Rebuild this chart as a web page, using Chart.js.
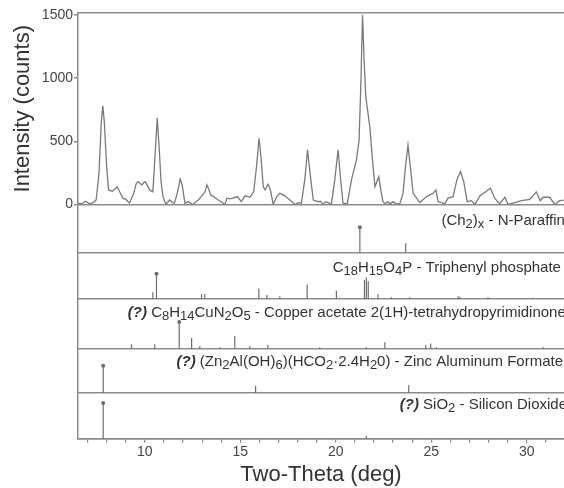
<!DOCTYPE html>
<html>
<head>
<meta charset="utf-8">
<script src="https://cdn.jsdelivr.net/npm/chart.js@4.4.0/dist/chart.umd.min.js"></script>
<style>
body { margin: 0; background: #fff; }
</style>
</head>
<body>
<canvas id="xrd" width="564" height="488"></canvas>
<script>
// measured pattern
const twoTheta = [6.5, 6.7, 6.9, 7.1, 7.3, 7.45, 7.6, 7.72, 7.8, 7.88, 8.0, 8.1, 8.3, 8.55, 8.7, 8.85, 9.0, 9.2, 9.4, 9.55,
  9.65, 9.75, 9.85, 9.95, 10.02, 10.15, 10.25, 10.42, 10.52, 10.65, 10.75, 10.85, 10.95, 11.1, 11.3, 11.45, 11.55, 11.7, 11.85, 11.95,
  12.1, 12.28, 12.5, 12.8, 12.95, 13.15, 13.25, 13.35, 13.45, 13.6, 13.85, 14.0, 14.2, 14.3, 14.45, 14.6, 14.85, 15.05, 15.25, 15.5,
  15.7, 15.85, 15.98, 16.08, 16.2, 16.3, 16.45, 16.58, 16.72, 16.9, 17.07, 17.33, 17.6, 17.85, 18.03, 18.2, 18.38, 18.52, 18.65, 18.82,
  19.07, 19.2, 19.33, 19.45, 19.6, 19.77, 19.95, 20.12, 20.25, 20.38, 20.6, 20.82, 21.08, 21.22, 21.32, 21.4, 21.48, 21.57, 21.78, 21.95,
  22.05, 22.25, 22.35, 22.47, 22.6, 22.7, 22.85, 23.0, 23.15, 23.35, 23.52, 23.65, 23.78, 23.9, 24.05, 24.4, 24.75, 25.1, 25.24, 25.36,
  25.55, 25.7, 25.88, 26.14, 26.35, 26.53, 26.7, 26.88, 27.1, 27.28, 27.54, 27.85, 28.1, 28.32, 28.58, 28.85, 29.02, 29.37, 29.72, 30.16,
  30.5, 30.71, 30.85, 31.2, 31.47, 31.73, 31.94];
const counts = [10, 5, 25, 5, 15, 35, 250, 650, 780, 650, 300, 115, 105, 140, 95, 50, 40, 12, 80, 165,
  180, 165, 155, 175, 180, 145, 115, 100, 350, 683, 450, 180, 62, 0, 35, 15, 10, 90, 200, 160,
  10, 22, 0, 35, 62, 100, 155, 120, 75, 62, 35, 22, 0, 50, 45, 50, 62, 22, 68, 57,
  100, 300, 524, 380, 140, 115, 160, 115, 0, 60, 88, 68, 35, 0, 15, 10, 200, 432, 250, 35,
  22, 25, 0, 22, 15, 0, 200, 432, 200, 10, 5, 194, 352, 510, 1000, 1500, 1150, 853, 616, 300,
  140, 220, 120, 22, 5, 22, 5, 22, 5, 5, 88, 300, 470, 300, 88, 15, 62, 88, 115, 22,
  15, 5, 50, 62, 200, 260, 180, 22, 30, 0, 68, 100, 128, 50, 5, 57, 0, 15, 30, 41,
  100, 30, 57, 57, 0, 30, 35];

// reference patterns (relative intensity)
const paraffinPos = [21.26, 23.66];
const paraffinInt = [100, 36];
const triphenylPos = [10.42, 10.61, 12.97, 13.14, 15.97, 16.39, 17.07, 18.5, 20.03, 21.5, 21.6, 21.7, 22.21, 22.91, 23.87, 26.4, 26.5, 27.97, 30.3];
const triphenylInt = [27, 100, 20, 20, 42, 16, 12, 58, 33, 75, 85, 70, 20, 8, 8, 12, 10, 8, 6];
const copperPos = [9.3, 10.52, 11.8, 12.45, 12.88, 13.93, 14.71, 15.5, 16.44, 19.16, 21.6, 22.57, 24.71, 24.97, 25.27, 30.85];
const copperInt = [18, 18, 100, 41, 11, 7, 48, 11, 15, 7, 7, 25, 15, 21, 7, 7];
const zincPos = [7.82, 15.8, 23.82];
const zincInt = [100, 26, 29];
const silicaPos = [7.82, 21.6];
const silicaInt = [100, 8];

const yTicks = [0, 500, 1000, 1500];
const xTicks = [7, 8, 9, 10, 11, 12, 13, 14, 15, 16, 17, 18, 19, 20, 21, 22, 23, 24, 25, 26, 27, 28, 29, 30, 31];
const xLabelled = [10, 15, 20, 25, 30];

const panelLabels = [
  [['(Ch', 'n'], ['2', 's'], [')', 'n'], ['x', 's'], [' - N-Paraffin', 'n']],
  [['C', 'n'], ['18', 's'], ['H', 'n'], ['15', 's'], ['O', 'n'], ['4', 's'], ['P - Triphenyl phosphate', 'n']],
  [['(?)', 'q'], [' C', 'n'], ['8', 's'], ['H', 'n'], ['14', 's'], ['CuN', 'n'], ['2', 's'], ['O', 'n'], ['5', 's'], [' - Copper acetate 2(1H)-tetrahydropyrimidinone', 'n']],
  [['(?)', 'q'], [' (Zn', 'n'], ['2', 's'], ['Al(OH)', 'n'], ['6', 's'], [')(HCO', 'n'], ['2', 's'], ['\u00b72.4H', 'n'], ['2', 's'], ['0) - Zinc Aluminum Formate', 'n']],
  [['(?)', 'q'], [' SiO', 'n'], ['2', 's'], [' - Silicon Dioxide', 'n']]
];

const panelIds = ['p1', 'p2', 'p3', 'p4', 'p5'];
const panelData = [[paraffinPos, paraffinInt], [triphenylPos, triphenylInt], [copperPos, copperInt], [zincPos, zincInt], [silicaPos, silicaInt]];
const panelWeight = [48, 47, 50, 44, 46];
const panelMax = [190, 184, 185, 161, 128];
const labelStart = [25.53, 19.84, 9.11, 11.66, 23.35];
const labelRise = [21, 20, 18, 17, 16];

const axisGray = '#8c8c8c';
const fontFam = '"Liberation Sans", Arial, sans-serif';
Chart.defaults.font.family = fontFam;

function sticks(pos, inten) {
  let pts = [];
  pos.forEach((p, i) => {
    pts.push({x: p, y: 0}, {x: p, y: inten[i]}, {x: p, y: null});
  });
  return pts;
}

const baselineOnly = (c) => (c.tick && c.tick.value === 0) ? axisGray : 'rgba(0,0,0,0)';

const scales = {
  x: {
    type: 'linear', position: 'bottom', min: 6.5, max: 31.95,
    afterBuildTicks: (s) => { s.ticks = xTicks.map(v => ({value: v})); },
    ticks: {autoSkip: false, maxRotation: 0, color: '#444', font: {size: 14}, padding: 1,
      callback: (v) => xLabelled.includes(v) ? String(v) : ''},
    grid: {drawOnChartArea: false, tickLength: 4, color: axisGray, lineWidth: 1.2},
    border: {color: axisGray, width: 1.5},
    title: {display: true, text: 'Two-Theta (deg)', color: '#333', font: {size: 22}, padding: {top: 0, bottom: 0}}
  },
  xTop: {
    type: 'linear', position: 'top', min: 6.5, max: 31.95,
    ticks: {display: false},
    grid: {display: false, drawTicks: false},
    border: {display: true, color: axisGray, width: 1.5}
  },
  y: {
    type: 'linear', position: 'left', stack: 'xrd', stackWeight: 192, weight: 6,
    min: 0, max: 1515,
    afterBuildTicks: (s) => { s.ticks = yTicks.map(v => ({value: v})); },
    // six stacked boxes share the width budget, so pin this one
    afterFit: (s) => { s.width = 68; },
    ticks: {color: '#444', font: {size: 14}, padding: 1, callback: (v) => String(v)},
    grid: {color: baselineOnly, tickColor: axisGray, tickLength: 4, lineWidth: 1.5},
    border: {color: axisGray, width: 1.5},
    title: {display: true, text: 'Intensity (counts)', color: '#333', font: {size: 22}, padding: {top: 0, bottom: 4}}
  }
};

const datasets = [{
  type: 'line',
  data: twoTheta.map((t, i) => ({x: t, y: counts[i]})),
  xAxisID: 'x', yAxisID: 'y',
  borderColor: '#7a7a7a', borderWidth: 1.3, pointRadius: 0, tension: 0
}];

panelIds.forEach((id, i) => {
  scales[id] = {
    type: 'linear', position: 'left', stack: 'xrd', stackWeight: panelWeight[i], weight: 5 - i,
    min: 0, max: panelMax[i],
    ticks: {display: false},
    grid: {color: baselineOnly, drawTicks: false, lineWidth: 1.5},
    border: {color: axisGray, width: 1.5}
  };
  datasets.push({
    type: 'line',
    data: sticks(panelData[i][0], panelData[i][1]),
    xAxisID: 'x', yAxisID: id,
    borderColor: '#6e6e6e', borderWidth: 1.2, spanGaps: false, tension: 0,
    pointRadius: (c) => (c.parsed && c.parsed.y === 100) ? 2 : 0,
    pointBackgroundColor: '#6e6e6e', pointBorderWidth: 0
  });
});

const labelPlugin = {
  id: 'panelLabels',
  afterDraw(chart) {
    const ctx = chart.ctx;
    const xs = chart.scales.x;
    panelIds.forEach((id, i) => {
      const s = chart.scales[id];
      let x = xs.getPixelForValue(labelStart[i]);
      const y = s.top + labelRise[i];
      ctx.save();
      ctx.fillStyle = '#333';
      ctx.textAlign = 'left';
      ctx.textBaseline = 'alphabetic';
      panelLabels[i].forEach(([t, k]) => {
        const size = k === 's' ? 13 : 15;
        ctx.font = (k === 'q' ? 'italic bold ' : '') + size + 'px ' + fontFam;
        ctx.fillText(t, x, y + (k === 's' ? 3 : 0));
        x += ctx.measureText(t).width;
      });
      ctx.restore();
    });
  }
};

const chart = new Chart(document.getElementById('xrd').getContext('2d'), {
  data: {datasets: datasets},
  options: {
    responsive: false,
    animation: false,
    layout: {padding: {top: 13, left: 10, right: 0, bottom: 0}},
    plugins: {legend: {display: false}, tooltip: {enabled: false}},
    scales: scales
  },
  plugins: [labelPlugin]
});
</script>
</body>
</html>
